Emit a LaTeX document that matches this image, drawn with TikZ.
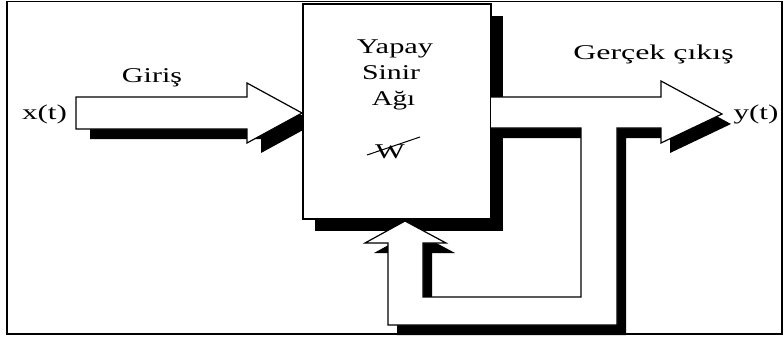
\documentclass[tikz,border=0pt]{standalone}
\usepackage{fontspec}
\usepackage{graphicx}
\setmainfont{Liberation Serif}
\begin{document}
\begin{tikzpicture}[x=1pt,y=-1pt,
  outline/.style={draw=black,line width=1.2pt,line join=miter},
  lbl/.style={inner sep=0pt,anchor=base,font=\fontsize{21}{26}\selectfont},
]
\useasboundingbox (0,0) rectangle (784,340);
% outer frame
\draw[line width=1.5pt] (7,1.5) rectangle (782,334);

% input block arrow (shadow first, then the white arrow)
\def\inarrow{(76,97) -- (247,97) -- (247,83) -- (302,113) -- (247,143) -- (247,129) -- (76,129) -- cycle}
\fill[black,shift={(14,10)}] \inarrow;
\path[outline,fill=white] \inarrow;

% network block with its shadow
\fill[black] (315,16) rectangle (503,231);
\node[outline,fill=white,minimum width=188pt,minimum height=215pt,inner sep=0pt] (ysa) at (397,111.5) {};

% output arrow with the feedback loop back into the block
\def\outshape{(491,128) -- (581,128) -- (581,297) -- (423,297) -- (423,243) -- (446,243) -- (405,221) -- (365,243) -- (388,243) -- (388,325) -- (617,325) -- (617,128) -- (661,128) -- (661,143) -- (722,114) -- (661,81) -- (661,97) -- (491,97)}
\fill[black,shift={(9,10)}] \outshape -- cycle;
\fill[white] \outshape -- cycle;
\draw[outline] \outshape;

% labels
\node[lbl] (giris) at (152,82) {\scalebox{1.43}[1]{Giriş}};
\node[lbl] (xt) at (44.5,119.5) {\scalebox{1.48}[1]{x(t)}};
\node[lbl] (l1) at (395,53) {\scalebox{1.45}[1]{Yapay}};
\node[lbl] (l2) at (391,79) {\scalebox{1.42}[1]{Sinir}};
\node[lbl] (l3) at (393.5,105) {\scalebox{1.38}[1]{Ağı}};
\node[lbl] (w) at (390,158) {\scalebox{1.5}[1]{W}};
\draw[line width=1pt] (367,155) -- (420,137);
\node[lbl] (gercek) at (653.5,59) {\scalebox{1.52}[1]{Gerçek çıkış}};
\node[lbl] (yt) at (756,119.5) {\scalebox{1.48}[1]{y(t)}};
\end{tikzpicture}
\end{document}
